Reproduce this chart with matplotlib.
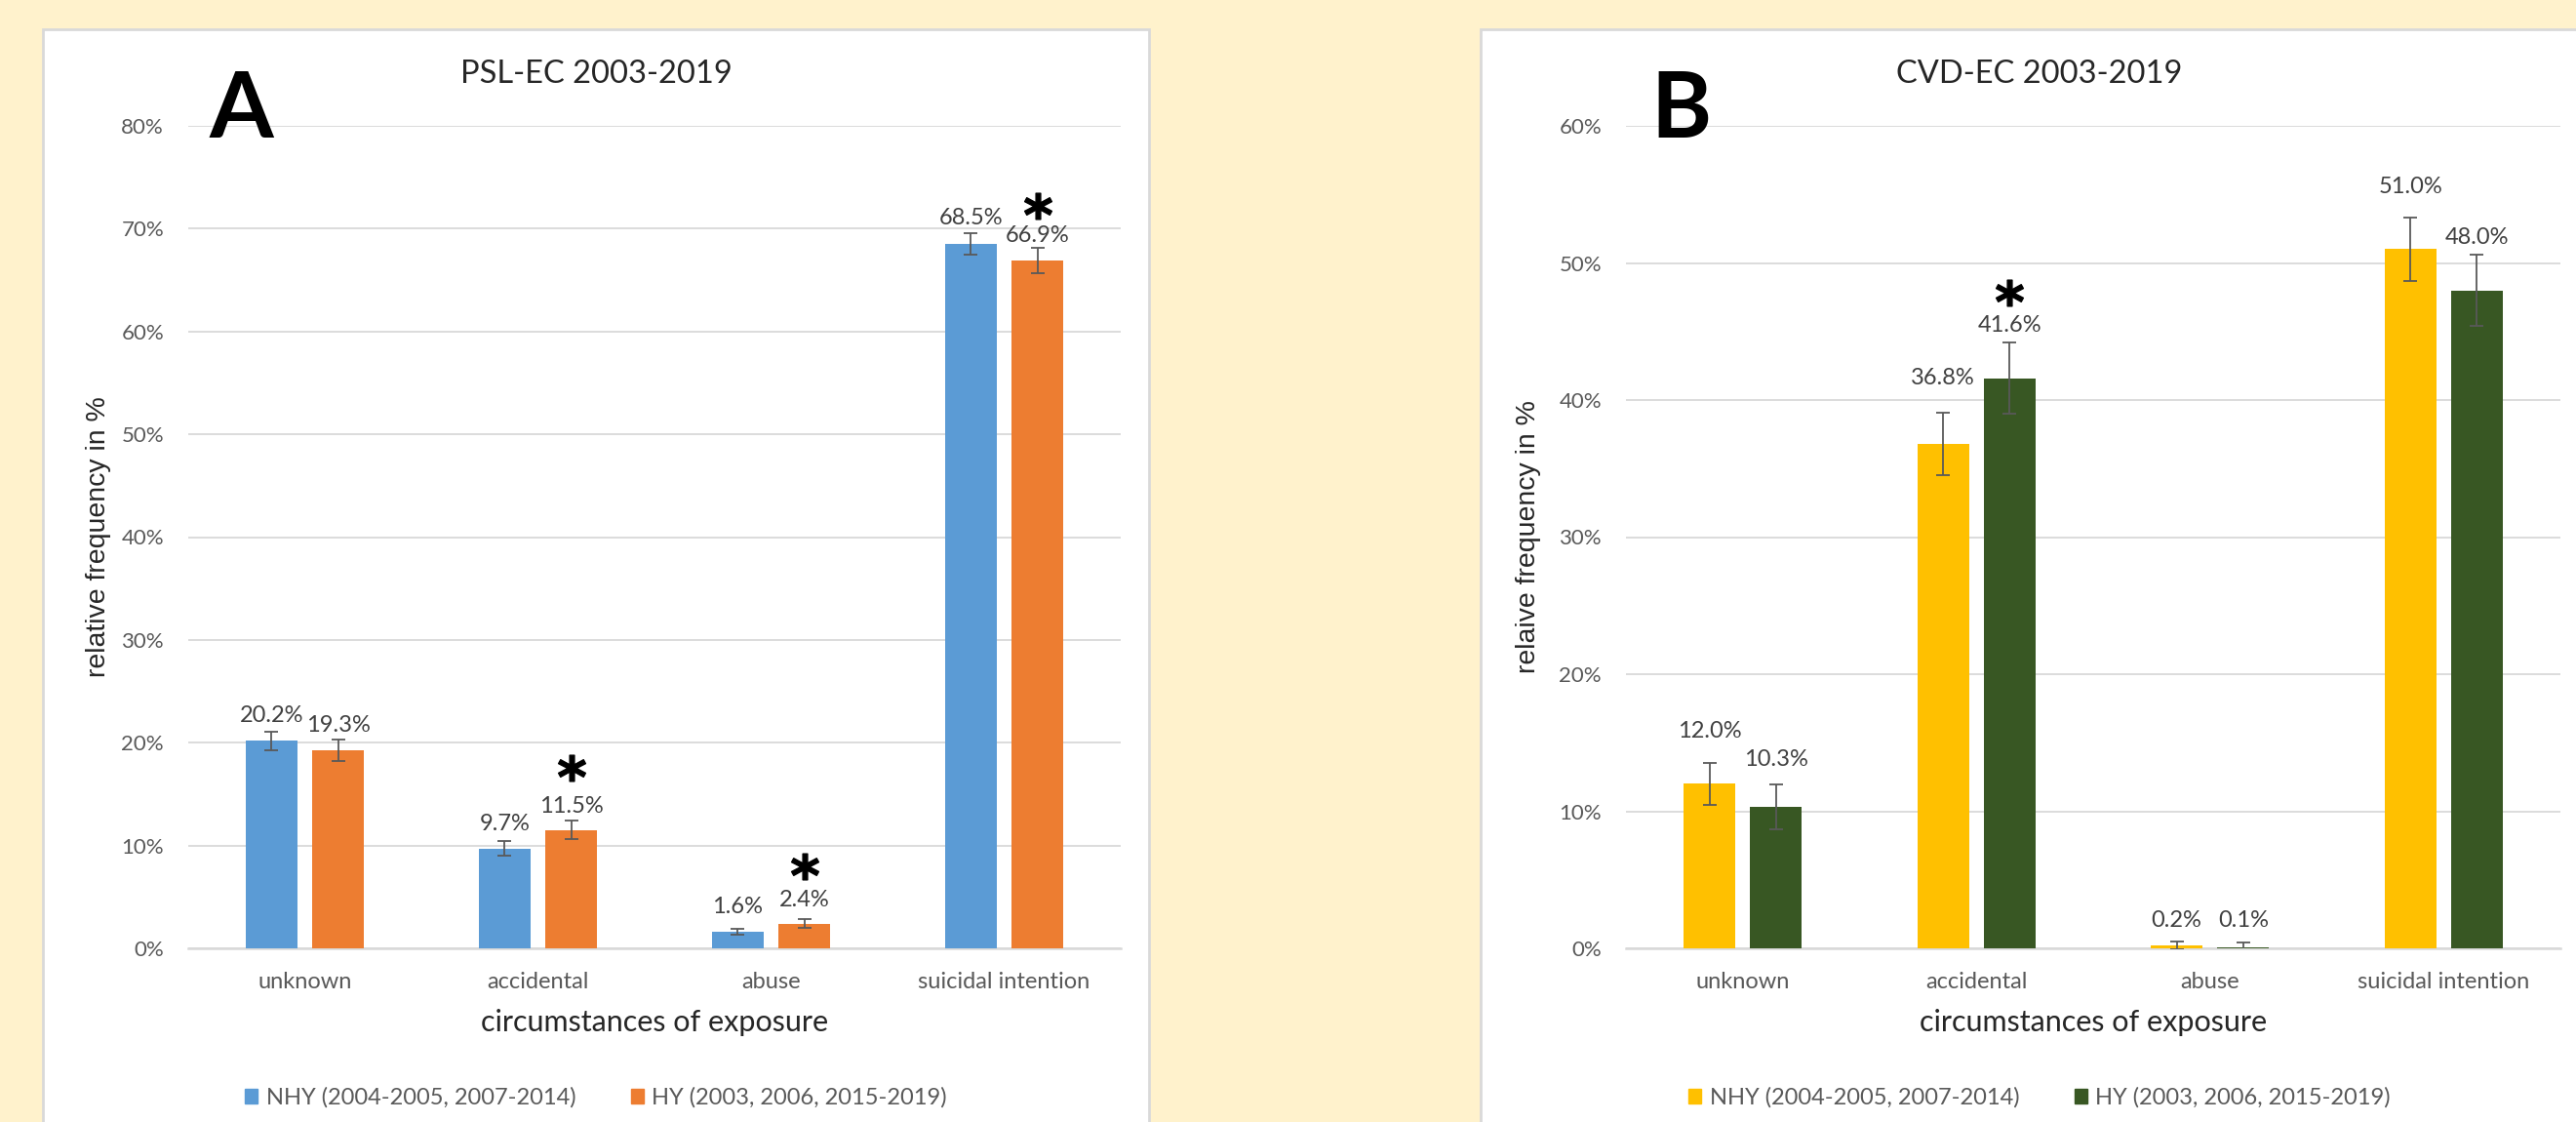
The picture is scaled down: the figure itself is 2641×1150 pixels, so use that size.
import numpy as np
import matplotlib.pyplot as plt
from matplotlib.patches import Rectangle, Patch

plt.rcParams['font.family'] = ['Lato', 'DejaVu Sans']

categories = ['unknown', 'accidental', 'abuse', 'suicidal intention']
series_names = ['NHY (2004-2005, 2007-2014)', 'HY (2003, 2006, 2015-2019)']

# PSL-EC 2003-2019, relative frequency in %
psl_nhy = [20.2, 9.7, 1.6, 68.5]
psl_hy = [19.3, 11.5, 2.4, 66.9]
psl_nhy_err = [0.9, 0.7, 0.3, 1.05]
psl_hy_err = [1.05, 0.9, 0.4, 1.2]
psl_signif = [False, True, True, True]

# CVD-EC 2003-2019, relative frequency in %
cvd_nhy = [12.0, 36.8, 0.2, 51.0]
cvd_hy = [10.3, 41.6, 0.1, 48.0]
cvd_nhy_err = [1.55, 2.3, 0.3, 2.3]
cvd_hy_err = [1.65, 2.6, 0.3, 2.6]
cvd_signif = [False, True, False, False]

BG = '#FFF2CC'
GRID = '#D9D9D9'
TXT = '#595959'
DARK = '#404040'

W, H = 2641, 1150
fig = plt.figure(figsize=(W / 100, H / 100), dpi=100, facecolor=BG)


def px_box(x0, y0, x1, y1):
    # pixel box (top-left origin) -> figure fraction rect
    return [x0 / W, 1 - y1 / H, (x1 - x0) / W, (y1 - y0) / H]


def panel(box, plot_box, title, letter, letter_x, ylabel, ymax,
          nhy, hy, nhy_err, hy_err, signif, colors,
          lift_nhy, lift_hy, star_y, ylabel_x):
    fig.add_artist(Rectangle((box[0] / W, 1 - box[3] / H),
                             (box[2] - box[0]) / W, (box[3] - box[1]) / H,
                             transform=fig.transFigure, facecolor='white',
                             edgecolor=GRID, linewidth=2, zorder=-5))
    cx = (box[0] + box[2]) / 2
    fig.text(cx / W, 1 - 76 / H, title, ha='center', va='center',
             fontsize=23.5, color='#262626')
    fig.text(letter_x / W, 1 - 141 / H, letter, ha='center', va='baseline',
             fontsize=68, fontweight='bold', color='black')

    ax = fig.add_axes(px_box(*plot_box))
    ax.set_facecolor('none')
    x = np.arange(len(categories))
    off, bw = 0.1423, 0.22
    ekw = dict(ecolor='#595959', elinewidth=1.3, capsize=5, capthick=1.3)
    ax.bar(x - off, nhy, bw, color=colors[0], yerr=nhy_err,
           error_kw=ekw, zorder=3)
    ax.bar(x + off, hy, bw, color=colors[1], yerr=hy_err,
           error_kw=ekw, zorder=3)

    for i in range(len(categories)):
        ax.annotate(f'{nhy[i]:.1f}%', (x[i] - off, nhy[i]),
                    xytext=(0, lift_nhy[i] * 0.72), textcoords='offset points',
                    ha='center', va='baseline', fontsize=17, color=DARK)
        ax.annotate(f'{hy[i]:.1f}%', (x[i] + off, hy[i]),
                    xytext=(0, lift_hy[i] * 0.72), textcoords='offset points',
                    ha='center', va='baseline', fontsize=17, color=DARK)
        if signif[i]:
            ax.plot(x[i] + off, star_y[i], marker=r'$\mathbf{*}$',
                    markersize=20, color='black', clip_on=False, zorder=5)

    ax.set_xlim(-0.5, len(categories) - 0.5)
    ax.set_ylim(0, ymax)
    ax.set_yticks(np.arange(0, ymax + 1, 10))
    ax.set_yticklabels([f'{v}%' for v in range(0, ymax + 1, 10)])
    ax.set_xticks(x)
    ax.set_xticklabels(categories)
    ax.tick_params(axis='y', length=0, pad=18, labelsize=16, labelcolor=TXT)
    ax.tick_params(axis='x', length=0, pad=17, labelsize=17, labelcolor=TXT)
    ax.grid(axis='y', color=GRID, linewidth=1.3, zorder=0)
    for side in ['top', 'right', 'left']:
        ax.spines[side].set_visible(False)
    ax.spines['bottom'].set_color(GRID)
    ax.spines['bottom'].set_linewidth(1.8)

    ax.set_xlabel('circumstances of exposure', fontsize=22, color='#262626')
    ax.xaxis.set_label_coords(0.5, -0.074)
    ax.xaxis.label.set_va('top')
    ax.set_ylabel(ylabel, fontsize=20.5, color='#262626',
                  family=['Liberation Sans', 'DejaVu Sans'])
    ax.yaxis.set_label_coords(ylabel_x, 0.5)

    handles = [Patch(color=c) for c in colors]
    fig.legend(handles, series_names, loc='center', ncol=2,
               bbox_to_anchor=(cx / W, 1 - 1125 / H), frameon=False,
               fontsize=17, labelcolor=TXT, handlelength=0.55,
               handleheight=0.65, handletextpad=0.35, columnspacing=2.4)
    return ax


panel((44, 30, 1178, 1200), (193, 129, 1149, 972), 'PSL-EC 2003-2019',
      'A', 247, 'relative frequency in %', 80,
      psl_nhy, psl_hy, psl_nhy_err, psl_hy_err, psl_signif,
      ['#5B9BD5', '#ED7D31'],
      [19, 19, 19, 20], [19, 18, 18, 19],
      [None, 17.6, 8.0, 72.2], -0.083)

panel((1518, 30, 2664, 1200), (1667, 129, 2625, 972), 'CVD-EC 2003-2019',
      'B', 1723, 'relaive frequency in %', 60,
      cvd_nhy, cvd_hy, cvd_nhy_err, cvd_hy_err, cvd_signif,
      ['#FFC000', '#385723'],
      [47, 61, 19, 57], [42, 48, 21, 48],
      [None, 47.8, None, None], -0.091)

plt.savefig('out.png', dpi=100, facecolor=fig.get_facecolor())
